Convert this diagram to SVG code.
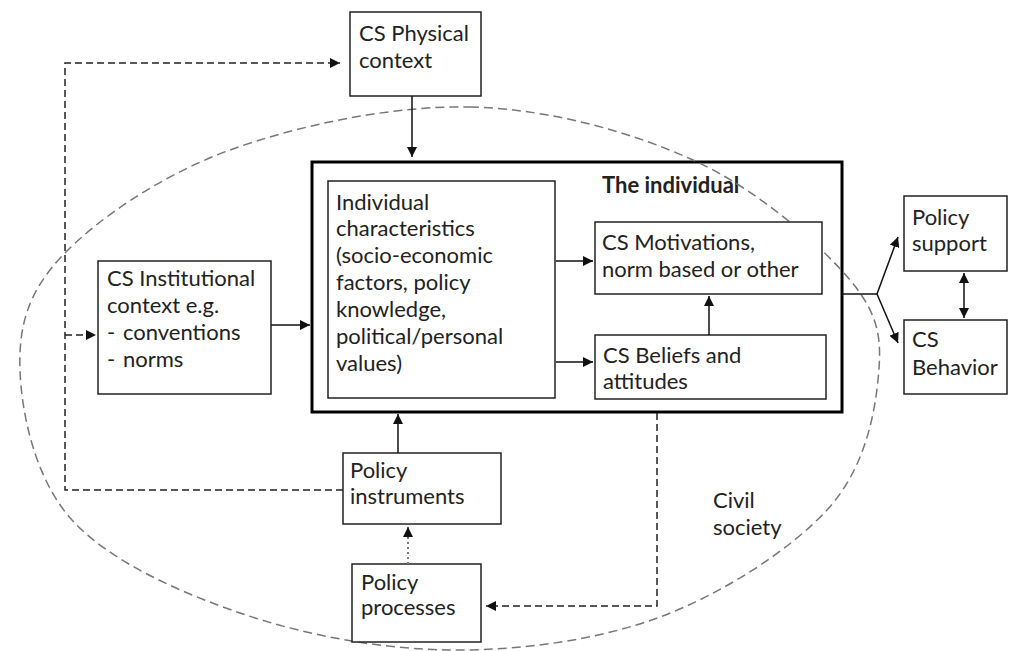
<svg xmlns="http://www.w3.org/2000/svg" width="1017" height="651" viewBox="0 0 1017 651">
<style>
.box{fill:#fff;stroke:#222;stroke-width:1.5}
.main{fill:#fff;stroke:#000;stroke-width:3}
text{font-family:Lato,"Open Sans",sans-serif;font-size:22px;fill:#222}
.b{font-weight:bold}
.solid{fill:none;stroke:#111;stroke-width:1.5}
.dash{fill:none;stroke:#222;stroke-width:1.5;stroke-dasharray:7,4}
.dot{fill:none;stroke:#777;stroke-width:2;stroke-dasharray:2,3}
.ell{fill:none;stroke:#777;stroke-width:1.5;stroke-dasharray:9,5}
</style>
<defs>
<marker id="ah" viewBox="0 0 10 10" refX="10" refY="5" markerWidth="10" markerHeight="10" markerUnits="userSpaceOnUse" orient="auto-start-reverse"><path d="M0,0 L10,5 L0,10 z" fill="#111"/></marker>
</defs>
<rect width="1017" height="651" fill="#fff"/>
<g id="main">
<rect class="main" x="312" y="162" width="530" height="250"/>
<text class="b" x="602" y="193">The individual</text>
</g>
<g id="civil-society-boundary">
<path class="ell" d="M470,107 C547.2,108.7 629.7,131.2 693,160 C756.3,188.8 819.2,243.3 850,280 C880.8,316.7 881.8,341.7 878,380 C874.2,418.3 863.3,470.5 827,510 C790.7,549.5 722.8,593.7 660,617 C597.2,640.3 520,650.7 450,650 C380,649.3 303,634.7 240,613 C177,591.3 108.7,560.5 72,520 C35.3,479.5 21.5,414.2 20,370 C18.5,325.8 28,291.7 63,255 C98,218.3 162.2,174.7 230,150 C297.8,125.3 392.8,105.3 470,107 Z"/>
</g>
<g id="physical"><rect class="box" x="350" y="12" width="131" height="84"/><text x="359" y="41">CS Physical</text><text x="359" y="68">context</text></g>
<g id="institutional"><rect class="box" x="98" y="261" width="173" height="133"/><text x="107" y="286">CS Institutional</text><text x="107" y="313">context e.g.</text><text x="107" y="340">-</text><text x="123" y="340">conventions</text><text x="107" y="367">-</text><text x="123" y="367">norms</text></g>
<g id="characteristics"><rect class="box" x="328" y="181" width="227" height="217"/><text x="336" y="210">Individual</text><text x="336" y="236">characteristics</text><text x="336" y="263">(socio-economic</text><text x="336" y="290">factors, policy</text><text x="336" y="317">knowledge,</text><text x="336" y="344">political/personal</text><text x="336" y="371">values)</text></g>
<g id="motivations"><rect class="box" x="595" y="222" width="227" height="72"/><text x="602" y="250">CS Motivations,</text><text x="602" y="277">norm based or other</text></g>
<g id="beliefs"><rect class="box" x="595" y="335" width="231" height="64"/><text x="603" y="363">CS Beliefs and</text><text x="603" y="389">attitudes</text></g>
<g id="support"><rect class="box" x="904" y="196" width="103" height="75"/><text x="912" y="225">Policy</text><text x="912" y="251">support</text></g>
<g id="behavior"><rect class="box" x="904" y="320" width="103" height="74"/><text x="912" y="347">CS</text><text x="912" y="375">Behavior</text></g>
<g id="instruments"><rect class="box" x="343" y="453" width="158" height="71"/><text x="350" y="478">Policy</text><text x="350" y="504">instruments</text></g>
<g id="processes"><rect class="box" x="352" y="564" width="129" height="78"/><text x="361" y="590">Policy</text><text x="361" y="615">processes</text></g>
<g id="civil"><text x="713" y="508">Civil</text><text x="713" y="535">society</text></g>
<g id="connectors">
<line class="solid" x1="412" y1="96" x2="412" y2="157" marker-end="url(#ah)"/>
<line class="solid" x1="271" y1="325" x2="310" y2="325" marker-end="url(#ah)"/>
<line class="solid" x1="556" y1="261" x2="593" y2="261" marker-end="url(#ah)"/>
<line class="solid" x1="556" y1="362" x2="593" y2="362" marker-end="url(#ah)"/>
<line class="solid" x1="709" y1="335" x2="709" y2="296" marker-end="url(#ah)"/>
<polyline class="solid" points="842,294 877,294"/>
<line class="solid" x1="877" y1="294" x2="898" y2="237" marker-end="url(#ah)"/>
<line class="solid" x1="877" y1="294" x2="898" y2="343" marker-end="url(#ah)"/>
<line class="solid" x1="964" y1="273" x2="964" y2="318" marker-start="url(#ah)" marker-end="url(#ah)"/>
<line class="solid" x1="398" y1="453" x2="398" y2="414" marker-end="url(#ah)"/>
<line class="dot" x1="408" y1="564" x2="408" y2="527" marker-end="url(#ah)"/>
<polyline class="dash" points="343,490 65,490 65,63 340,63" marker-end="url(#ah)"/>
<polyline class="dash" points="65,335 96,335" marker-end="url(#ah)"/>
<polyline class="dash" points="657,413 657,606 486,606" marker-end="url(#ah)"/>
</g>
</svg>
